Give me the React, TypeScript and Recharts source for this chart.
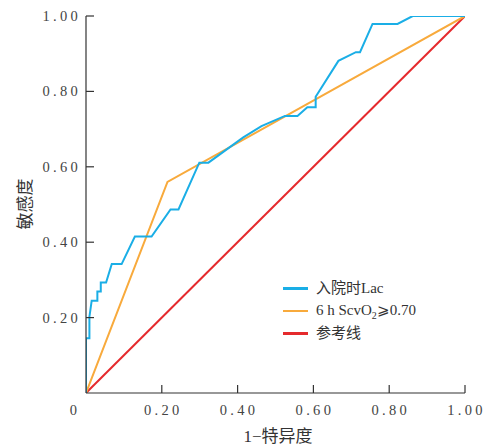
import React from 'react';
import { LineChart, Line, XAxis, YAxis } from 'recharts';

const lacX = [0, 0, 0.009, 0.009, 0.015, 0.030, 0.030, 0.039, 0.039, 0.053, 0.068, 0.094, 0.129, 0.173, 0.223, 0.244, 0.299, 0.323, 0.415, 0.463, 0.525, 0.558, 0.584, 0.606, 0.606, 0.666, 0.712, 0.723, 0.756, 0.822, 0.862, 1.0];
const lacY = [0, 0.145, 0.145, 0.202, 0.245, 0.245, 0.269, 0.269, 0.293, 0.293, 0.342, 0.342, 0.415, 0.415, 0.487, 0.487, 0.611, 0.611, 0.678, 0.708, 0.735, 0.735, 0.758, 0.758, 0.786, 0.881, 0.904, 0.904, 0.979, 0.979, 1.0, 1.0];
const scvX = [0, 0.215, 1.0];
const scvY = [0, 0.56, 1.0];
const refX = [0, 1];
const refY = [0, 1];

const xTicks = [0, 0.2, 0.4, 0.6, 0.8, 1.0];
const yTicks = [0.2, 0.4, 0.6, 0.8, 1.0];
const xTickLabels = ['0', '0.20', '0.40', '0.60', '0.80', '1.00'];
const yTickLabels = ['0.20', '0.40', '0.60', '0.80', '1.00'];

const seriesNames = ['入院时Lac', '6 h ScvO2⩾0.70', '参考线'];
const colors = ['#1AAEE6', '#F8AA3C', '#E52A2D'];

const toPts = (xs: number[], ys: number[]) => xs.map((x, i) => ({ x, y: ys[i] }));
const lacData = toPts(lacX, lacY);
const scvData = toPts(scvX, scvY);
const refData = toPts(refX, refY);

const FONT = "'Liberation Serif', 'Noto Sans CJK SC', serif";
const AXIS = '#333';

const XTick = (props: any) => {
  const { x, y, payload } = props;
  const idx = xTicks.indexOf(payload.value);
  const label = xTickLabels[idx] ?? String(payload.value);
  const isZero = payload.value === 0;
  return (
    <g>
      {!isZero && <line x1={x} x2={x} y1={y} y2={y - 8} stroke={AXIS} strokeWidth={1.2} />}
      <text x={isZero ? x - 11 : x + 1.5} y={y + 22} textAnchor="middle" fontSize={14.5} letterSpacing={3.3} fill="#444" fontFamily={FONT}>
        {label}
      </text>
    </g>
  );
};

const YTick = (props: any) => {
  const { x, y, payload } = props;
  const idx = yTicks.indexOf(payload.value);
  const label = yTickLabels[idx] ?? String(payload.value);
  return (
    <g>
      <line x1={x} x2={x + 8} y1={y} y2={y} stroke={AXIS} strokeWidth={1.2} />
      <text x={x - 5} y={y + 5} textAnchor="end" fontSize={14.5} letterSpacing={3.3} fill="#444" fontFamily={FONT}>
        {label}
      </text>
    </g>
  );
};

const LegendBox = () => (
  <div style={{ position: 'absolute', left: 283, top: 277, fontFamily: FONT, fontSize: 15, color: '#333' }}>
    {seriesNames.map((n, i) => (
      <div key={n} style={{ display: 'flex', alignItems: 'center', height: 22.5 }}>
        <div style={{ width: 25, height: 2.5, background: colors[i], marginRight: 8 }} />
        <span style={{ lineHeight: 1 }}>
          {i === 1 ? (
            <>6 h ScvO<sub style={{ fontSize: 10, lineHeight: 0 }}>2</sub>⩾0.70</>
          ) : (
            n
          )}
        </span>
      </div>
    ))}
  </div>
);

export default function App() {
  return (
    <div style={{ position: 'absolute', left: 0, top: 0, width: 486, height: 447, background: '#fff' }}>
      <LineChart width={486} height={447} margin={{ top: 16, right: 21, bottom: 24, left: 0 }}>
        <XAxis
          dataKey="x"
          type="number"
          domain={[0, 1]}
          ticks={xTicks}
          allowDataOverflow
          tickSize={0}
          tickMargin={0}
          tickLine={false}
          tick={<XTick />}
          height={30}
          stroke={AXIS}
          strokeWidth={1.2}
          interval={0}
        />
        <YAxis
          dataKey="y"
          type="number"
          domain={[0, 1]}
          ticks={yTicks}
          allowDataOverflow
          tickSize={0}
          tickMargin={0}
          tickLine={false}
          tick={<YTick />}
          width={86}
          stroke={AXIS}
          strokeWidth={1.2}
          interval={0}
        />
        <Line data={refData} dataKey="y" type="linear" stroke={colors[2]} strokeWidth={2} dot={false} isAnimationActive={false} legendType="none" />
        <Line data={scvData} dataKey="y" type="linear" stroke={colors[1]} strokeWidth={2} dot={false} isAnimationActive={false} legendType="none" />
        <Line data={lacData} dataKey="y" type="linear" stroke={colors[0]} strokeWidth={2} dot={false} isAnimationActive={false} legendType="none" />
      </LineChart>
      <LegendBox />
      <div style={{ position: 'absolute', left: 25, top: 204, lineHeight: 1, transform: 'translate(-50%, -50%) rotate(-90deg)', fontFamily: FONT, fontSize: 17, color: '#333', whiteSpace: 'nowrap' }}>
        敏感度
      </div>
      <div style={{ position: 'absolute', left: 278, top: 436, lineHeight: 1, transform: 'translate(-50%, -50%)', fontFamily: FONT, fontSize: 17, color: '#333', whiteSpace: 'nowrap' }}>
        1−特异度
      </div>
    </div>
  );
}
